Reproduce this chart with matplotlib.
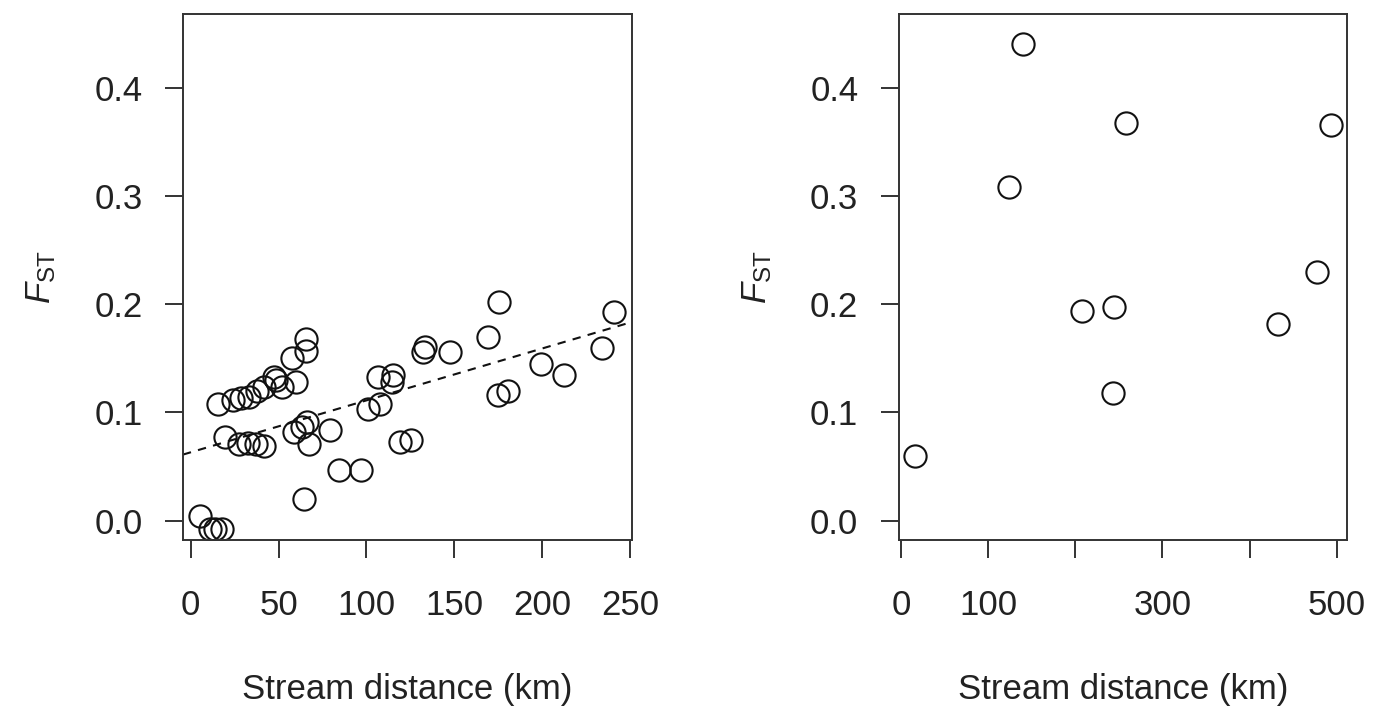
import numpy as np
import matplotlib.pyplot as plt

plt.rcParams['font.family'] = ['Liberation Sans', 'DejaVu Sans']
plt.rcParams['mathtext.fontset'] = 'custom'
plt.rcParams['mathtext.rm'] = 'Liberation Sans'
plt.rcParams['mathtext.it'] = 'Liberation Sans:italic'

# left panel: stream distance (km) vs FST
left_dist = [5.6, 11, 14, 18,
             15.4, 23.9, 28.6, 33.3, 38, 41.8, 47.5, 48.4, 52.2, 59.7, 57.8, 65.4, 65.4,
             19.8, 27.7, 32.4, 37.1, 41.8, 58.8, 63.5, 66.3, 67.2, 79.5, 84.2, 97, 64.4,
             101, 107.7, 106.8, 115.3, 114.3, 119, 125.6, 133.2, 132.2,
             175.5, 169.3, 147.3, 174.6, 180.2, 199, 212.3, 233.9, 240.5]
left_fst = [0.004, -0.008, -0.008, -0.008,
            0.108, 0.111, 0.113, 0.114, 0.120, 0.123, 0.133, 0.130, 0.123, 0.128, 0.150, 0.168, 0.157,
            0.077, 0.071, 0.072, 0.071, 0.069, 0.082, 0.086, 0.091, 0.071, 0.084, 0.047, 0.047, 0.020,
            0.103, 0.108, 0.133, 0.134, 0.128, 0.073, 0.074, 0.160, 0.156,
            0.202, 0.170, 0.156, 0.116, 0.120, 0.145, 0.134, 0.159, 0.193]

# regression line shown in the left panel
fit_intercept = 0.063
fit_slope = 0.00048

# right panel
right_dist = [15.8, 123.4, 139.7, 207.3, 244.3, 242.8, 257.6, 432.9, 477.8, 494]
right_fst = [0.0595, 0.308, 0.4406, 0.1935, 0.1977, 0.118, 0.367, 0.182, 0.230, 0.365]

left_xticks = [0, 50, 100, 150, 200, 250]
right_xticks = [0, 100, 200, 300, 400, 500]
right_xlabels = ['0', '100', '', '300', '', '500']
yticks = [0.0, 0.1, 0.2, 0.3, 0.4]

fig = plt.figure(figsize=(13.77, 7.11), dpi=100)
ax1 = fig.add_axes([0.1329, 0.2405, 0.3261, 0.7398])
ax2 = fig.add_axes([0.6526, 0.2405, 0.3257, 0.7398])

txt = '#222222'
for ax in (ax1, ax2):
    for s in ax.spines.values():
        s.set_linewidth(1.4)
        s.set_color('#333333')
    ax.set_ylim(-0.018, 0.468)
    ax.set_yticks(yticks)
    ax.set_yticklabels(['%.1f' % v for v in yticks])
    ax.tick_params(axis='both', direction='out', length=13, width=1.4,
                   color='#333333', labelsize=25, labelcolor=txt)
    ax.tick_params(axis='x', pad=22)
    ax.tick_params(axis='y', pad=16)
    ax.set_xlabel('Stream distance (km)', fontsize=25, color=txt, labelpad=37)
    ax.set_ylabel(r'$F_{\mathrm{ST}}$', fontsize=25, color=txt, labelpad=26)

ax1.plot(left_dist, left_fst, 'o', mfc='none', mec='#111111', ms=16, mew=1.5)
ax1.axline((0, fit_intercept), slope=fit_slope, color='#111111', lw=1.5,
           ls=(0, (4, 3.5)))
ax1.set_xlim(-4.3, 251)
ax1.set_xticks(left_xticks)

ax2.plot(right_dist, right_fst, 'o', mfc='none', mec='#111111', ms=16, mew=1.5)
ax2.set_xlim(-3, 512)
ax2.set_xticks(right_xticks)
ax2.set_xticklabels(right_xlabels)

fig.savefig('out.png', dpi=100)
